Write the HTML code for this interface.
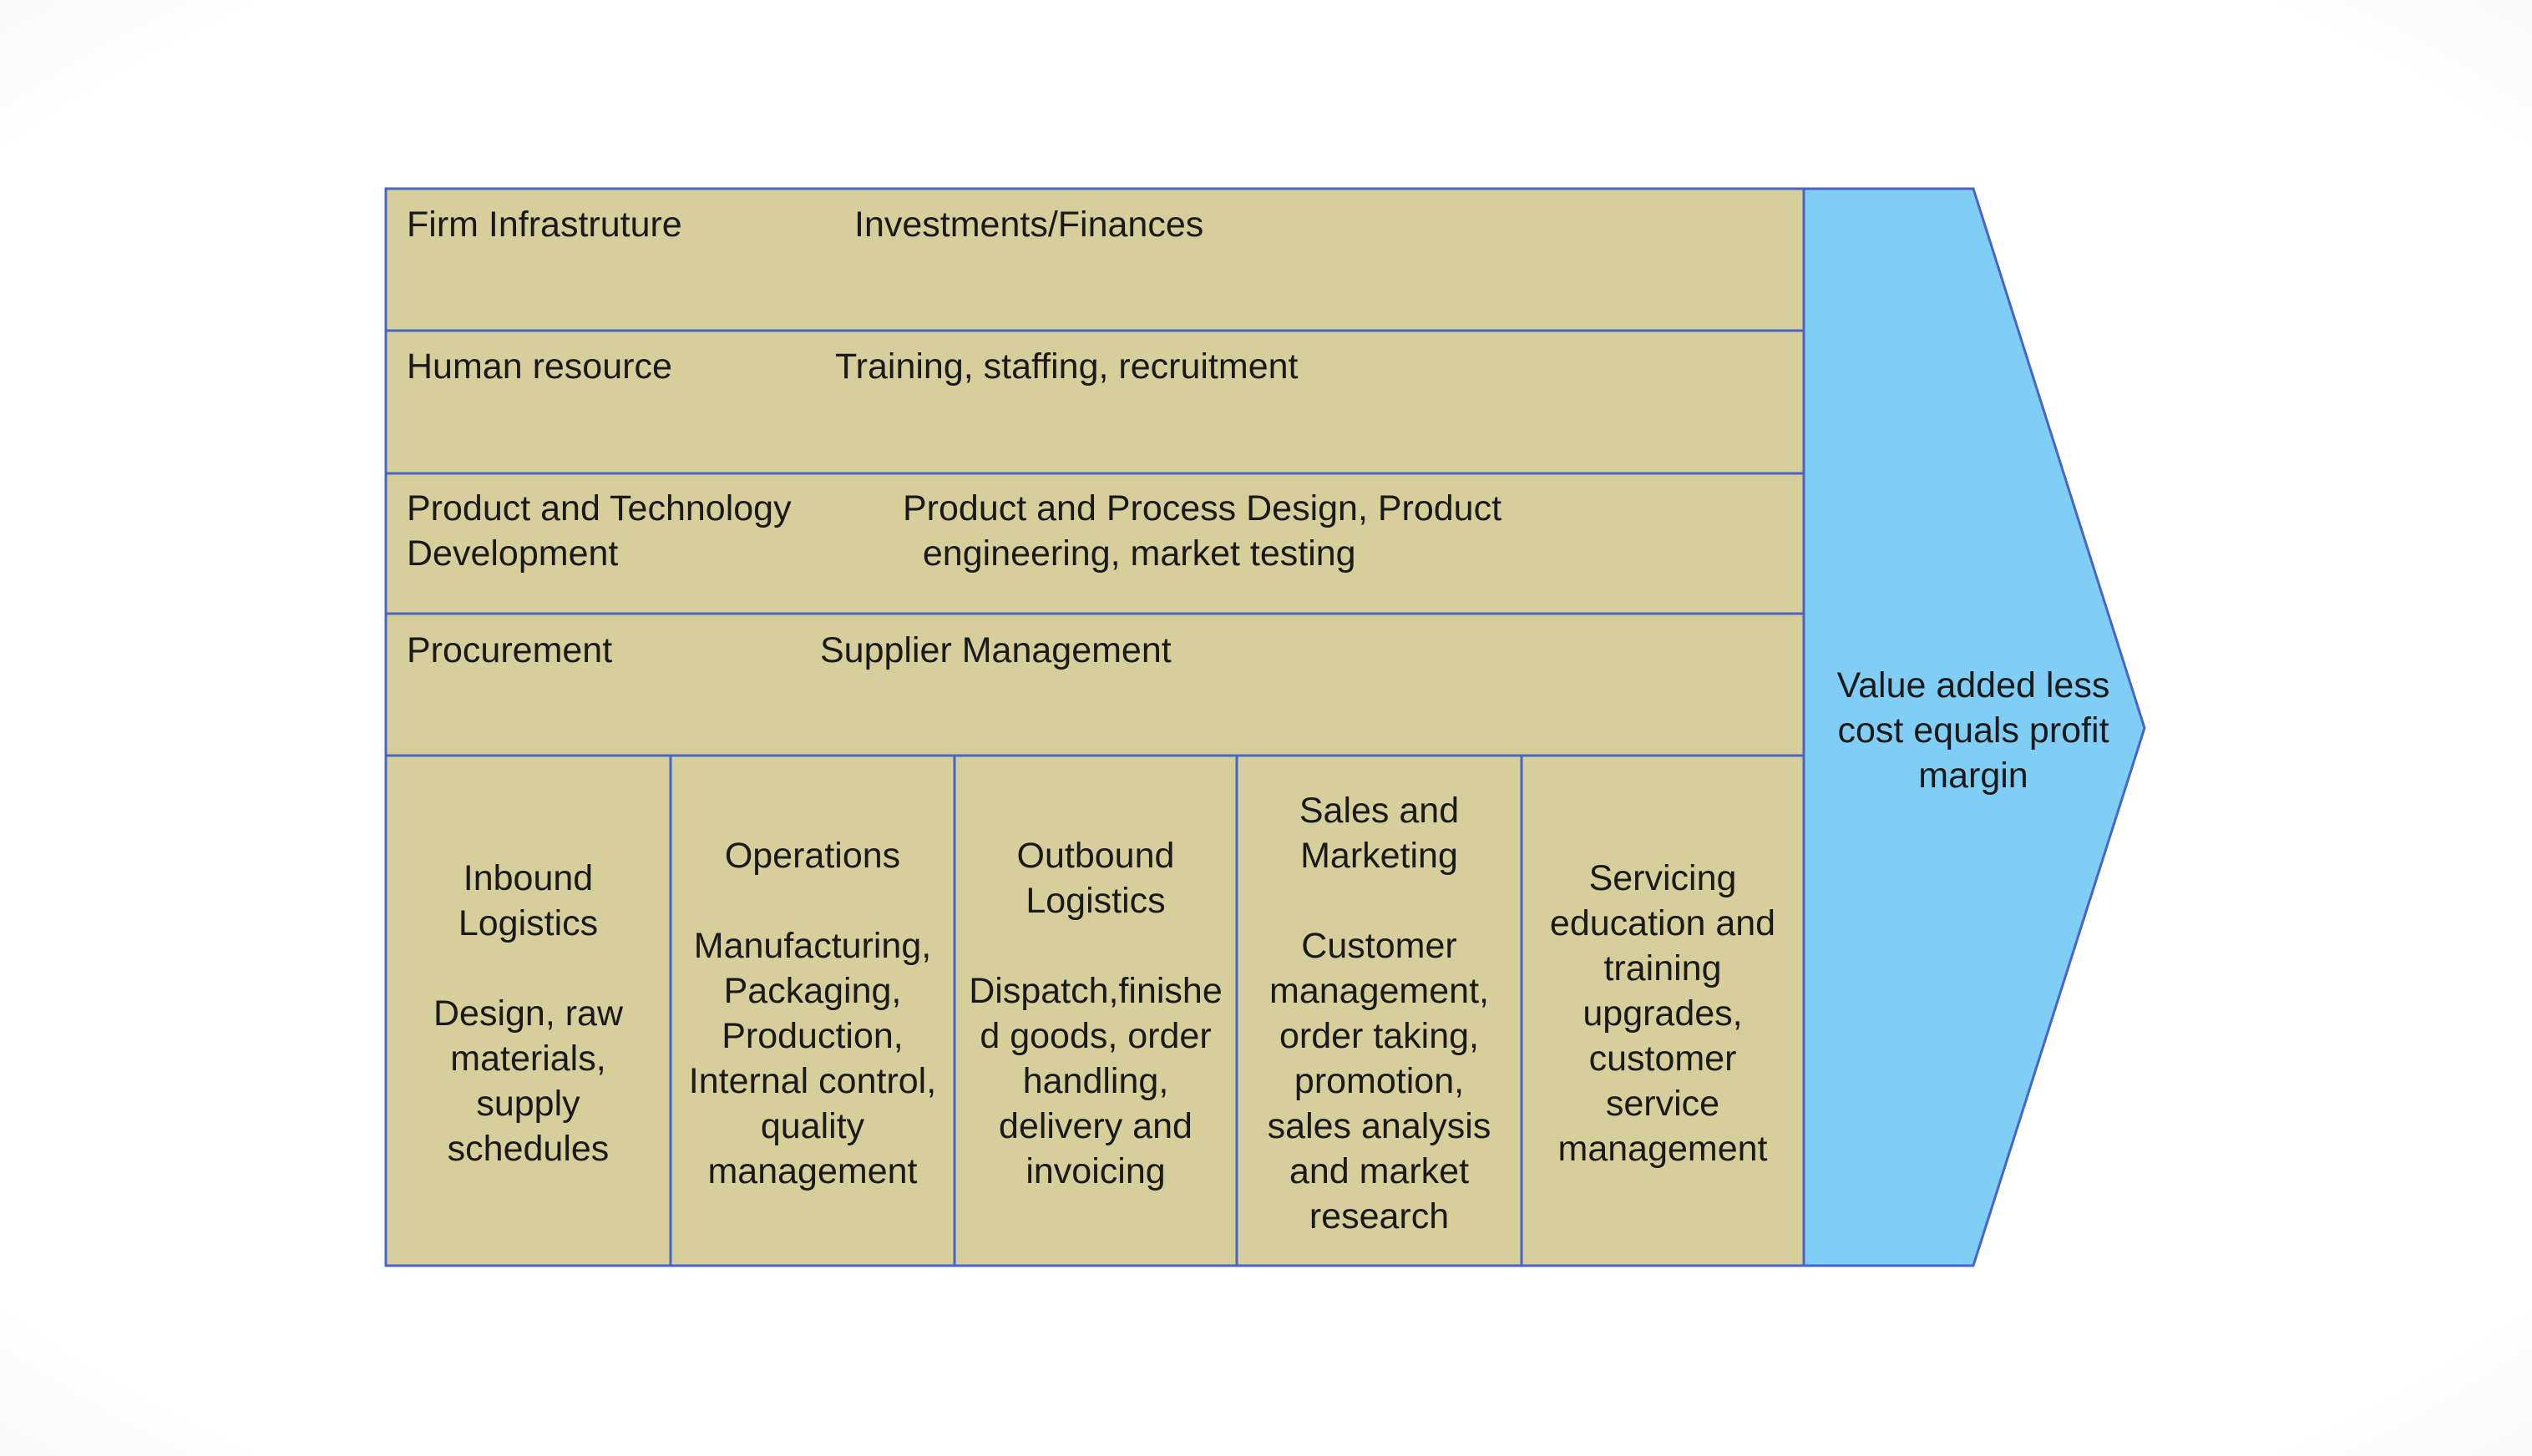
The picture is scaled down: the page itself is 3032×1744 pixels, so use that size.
<!DOCTYPE html>
<html><head><meta charset="utf-8"><style>
html,body{margin:0;padding:0;background:#fff;}
body{width:3032px;height:1744px;position:relative;overflow:hidden;font-family:"Liberation Sans",Arial,sans-serif;color:#1a1a1a;}
.t{position:absolute;font-size:43px;line-height:54px;white-space:nowrap;}
.c{position:absolute;display:flex;align-items:center;justify-content:center;text-align:center;font-size:43px;line-height:54px;}
</style></head><body>
<svg width="3032" height="1744" style="position:absolute;left:0;top:0">
<defs>
<radialGradient id="bg" cx="50%" cy="50%" r="72%"><stop offset="85%" stop-color="#ffffff"/><stop offset="100%" stop-color="#f9f9f9"/></radialGradient>
</defs>
<rect width="3032" height="1744" fill="url(#bg)"/>
<rect x="462" y="226" width="1698" height="1290" fill="#d6cf9c"/>
<polygon points="2160,226 2363,226 2568,872 2363,1516 2160,1516" fill="#80cef5" stroke="#4a63c8" stroke-width="3"/>
<g stroke="#4a63c8" stroke-width="3" fill="none">
<rect x="462" y="226" width="1698" height="1290"/>
<line x1="462" y1="396" x2="2160" y2="396"/>
<line x1="462" y1="567" x2="2160" y2="567"/>
<line x1="462" y1="735" x2="2160" y2="735"/>
<line x1="462" y1="905" x2="2160" y2="905"/>
<line x1="803" y1="905" x2="803" y2="1516"/>
<line x1="1143" y1="905" x2="1143" y2="1516"/>
<line x1="1481" y1="905" x2="1481" y2="1516"/>
<line x1="1822" y1="905" x2="1822" y2="1516"/>
</g>
</svg>
<div class="t" style="left:487px;top:242px">Firm Infrastruture</div>
<div class="t" style="left:1023px;top:242px">Investments/Finances</div>
<div class="t" style="left:487px;top:412px">Human resource</div>
<div class="t" style="left:1000px;top:412px">Training, staffing, recruitment</div>
<div class="t" style="left:487px;top:582px">Product and Technology<br>Development</div>
<div class="t" style="left:1081px;top:582px">Product and Process Design, Product<br>&nbsp;&nbsp;engineering, market testing</div>
<div class="t" style="left:487px;top:752px">Procurement</div>
<div class="t" style="left:982px;top:752px">Supplier Management</div>
<div class="c" style="left:462px;top:908px;width:341px;height:611px">Inbound<br>Logistics<br><br>Design, raw<br>materials,<br>supply<br>schedules</div>
<div class="c" style="left:803px;top:908px;width:340px;height:611px">Operations<br><br>Manufacturing,<br>Packaging,<br>Production,<br>Internal control,<br>quality<br>management</div>
<div class="c" style="left:1143px;top:908px;width:338px;height:611px">Outbound<br>Logistics<br><br>Dispatch,finishe<br>d goods, order<br>handling,<br>delivery and<br>invoicing</div>
<div class="c" style="left:1481px;top:908px;width:341px;height:611px">Sales and<br>Marketing<br><br>Customer<br>management,<br>order taking,<br>promotion,<br>sales analysis<br>and market<br>research</div>
<div class="c" style="left:1822px;top:908px;width:338px;height:611px">Servicing<br>education and<br>training<br>upgrades,<br>customer<br>service<br>management</div>
<div class="c" style="left:2163px;top:792px;width:400px;height:165px">Value added less<br>cost equals profit<br>margin</div>
</body></html>
